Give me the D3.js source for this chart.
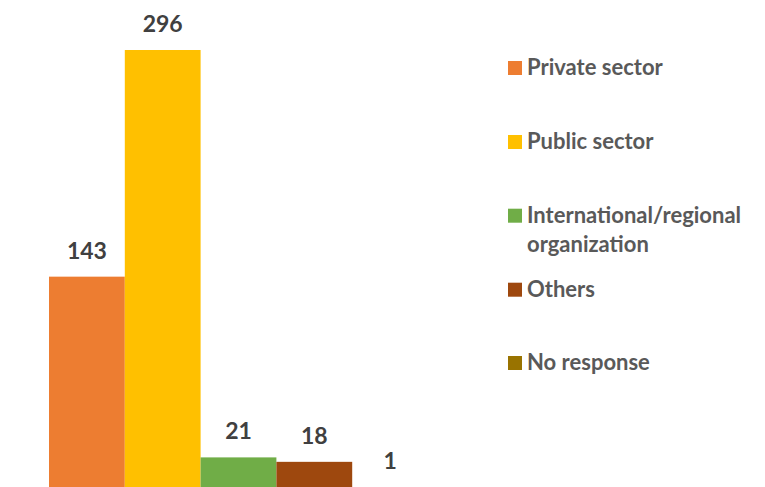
<!DOCTYPE html>
<html><head><meta charset="utf-8">
<script src="https://cdn.jsdelivr.net/npm/d3@7"></script>
<style>html,body{margin:0;padding:0;background:#fff;overflow:hidden}</style>
</head><body>
<svg id="chart" width="765" height="487"></svg>
<script>
const categories = ["Private sector","Public sector","International/regional organization","Others","No response"];
const values = [143, 296, 21, 18, 1];
const colors = ["#ED7D31","#FFC000","#70AD47","#9E480E","#997300"];
const legendLines = [["Private sector"],["Public sector"],["International/regional","organization"],["Others"],["No response"]];

const svg = d3.select("#chart");
const font = "Lato, 'Open Sans', sans-serif";
const x = d3.scaleBand().domain(categories).range([49, 428]).padding(0);
const y = d3.scaleLinear().domain([0, 296]).range([488.5, 50]);

svg.selectAll("rect.bar").data(values).enter().append("rect")
  .attr("class","bar")
  .attr("x",(d,i)=>x(categories[i]))
  .attr("width",x.bandwidth())
  .attr("y",d=>y(d))
  .attr("height",d=>y(0)-y(d))
  .attr("fill",(d,i)=>colors[i]);

svg.selectAll("text.lbl").data(values).enter().append("text")
  .attr("class","lbl")
  .attr("x",(d,i)=>x(categories[i])+x.bandwidth()/2)
  .attr("y",d=>y(d)-18)
  .attr("text-anchor","middle")
  .attr("font-family",font).attr("font-weight","bold").attr("font-size",23)
  .attr("fill","#404040")
  .text(d=>d);

const baselines = [75, 149, 222.7, 296.7, 370];
const lg = svg.selectAll("g.leg").data(categories).enter().append("g").attr("class","leg");
lg.append("rect").attr("x",508).attr("y",(d,i)=>baselines[i]-14).attr("width",14).attr("height",14)
  .attr("fill",(d,i)=>colors[i]);
lg.append("text").attr("x",527).attr("y",(d,i)=>baselines[i])
  .attr("font-family",font).attr("font-weight","bold").attr("font-size",22)
  .attr("fill","#595959")
  .selectAll("tspan").data((d,i)=>legendLines[i]).enter().append("tspan")
  .attr("x",527).attr("dy",(d,j)=>j===0?0:29).text(d=>d);
</script>
</body></html>
